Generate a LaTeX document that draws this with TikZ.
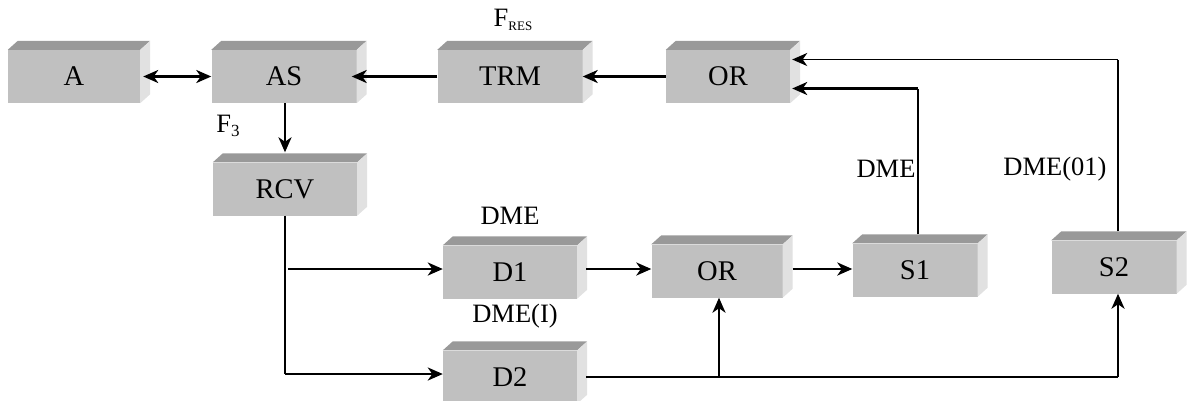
\documentclass[tikz,border=0pt]{standalone}
\usepackage{fontspec}
\setmainfont{Liberation Serif}
\usepackage{tikz}
\usetikzlibrary{calc, arrows.meta}
\definecolor{boxFront}{RGB}{192, 192, 192}
\definecolor{boxTop}{RGB}{153, 153, 153}
\definecolor{boxSide}{RGB}{225, 225, 225}

% top and right faces of a raised box
\newcommand{\bevel}[1]{%
  \fill[boxTop] (#1.north west) -- ++(10,-9) -- ($(#1.north east)+(10,-9)$) -- (#1.north east) -- cycle;
  \fill[boxSide] (#1.north east) -- ++(10,-9) -- ($(#1.south east)+(10,-9)$) -- (#1.south east) -- cycle;}

\begin{document}
\begin{tikzpicture}[x=1pt, y=-1pt, >={Stealth[length=15pt, width=13pt, inset=4.5pt]},
  block/.style={fill=boxFront, minimum height=53pt, inner sep=0pt, font=\fontsize{28.5}{30}\selectfont},
  link/.style={line width=2.6pt},
  wire/.style={line width=1.2pt},
  lbl/.style={font=\fontsize{26.5}{28}\selectfont}]
  \useasboundingbox (0,0) rectangle (1192,400);

  \node[block, minimum width=132pt] (A) at (74,76.5) {A};
  \node[block, minimum width=145pt] (AS) at (284,76.5) {AS};
  \node[block, minimum width=145pt] (TRM) at (510,76.5) {TRM};
  \node[block, minimum width=124pt] (OR1) at (728,76.5) {OR};
  \node[block, minimum width=144pt] (RCV) at (285,189) {RCV};
  \node[block, minimum width=134pt] (D1) at (510,272) {D1};
  \node[block, minimum width=134pt] (D2) at (510,377) {D2};
  \node[block, minimum width=131pt] (OR2) at (717,271) {OR};
  \node[block, minimum width=125pt] (S1) at (915,270) {S1};
  \node[block, minimum width=125pt] (S2) at (1114,267) {S2};
  \foreach \b in {A,AS,TRM,OR1,RCV,D1,D2,OR2,S1,S2} {\bevel{\b}}

  \node[lbl] (Fres) at (513,20) {F\raisebox{-0.35ex}{\fontsize{13}{13}\selectfont RES}};
  \node[lbl] (F3) at (228,126) {F\raisebox{-0.35ex}{\fontsize{17}{17}\selectfont 3}};
  \node[lbl] (dmeA) at (510,216) {DME};
  \node[lbl] (dmeB) at (515,316) {DME(I)};
  \node[lbl] (dmeC) at (886,169) {DME};
  \node[lbl] (dmeD) at (1055,169) {DME(01)};

  % upper chain
  \draw[link, <->] ($(A.east)+(3,0)$) -- (AS.west);
  \draw[link, ->] (TRM.west) -- ($(AS.east)+(-5,0)$);
  \draw[link, ->] (OR1.west) -- (TRM.east);
  \draw[link, ->] ($(RCV.north |- AS.south)$) -- ($(RCV.north)+(0,-10)$);

  % receiver split
  \coordinate (split1) at ($(RCV.south |- D1.west)+(3,-3)$);
  \coordinate (split2) at ($(RCV.south |- D2.west)+(0,-3)$);
  \draw[wire] (RCV.south) -- (split2);
  \draw[link, ->] (split1) -- ($(D1.west)+(0,-3)$);
  \draw[link, ->] (split2) -- ($(D2.west)+(0,-3)$) ;
  \draw[link, ->] ($(D1.east)+(9,-3)$) -- ($(OR2.west)+(0,-2)$);
  \draw[link, ->] ($(OR2.east)+(10,-2)$) -- ($(S1.west)+(0,-1)$);

  % D2 feed
  \coordinate (tap) at ($(OR2.south |- D2.east)+(2,0)$);
  \coordinate (corner) at ($(S2.south |- D2.east)+(4,0)$);
  \draw[line width=1.8pt] ($(D2.east)+(9,0)$) -- (corner);
  \draw[link, ->] (tap) -- ($(OR2.south)+(2,0)$);
  \draw[link, ->] (corner) -- ($(S2.south)+(4,0)$);

  % feedback to OR
  \coordinate (top1) at ($(S1.north)+(3,-9)$);
  \coordinate (top2) at ($(S2.north)+(4,-9)$);
  \coordinate (in1) at ($(OR1.east)+(2,12)$);
  \coordinate (in2) at ($(OR1.east)+(2,-17)$);
  \draw[wire] (top1) -- (top1 |- in1);
  \draw[link, ->] (top1 |- in1) -- (in1);
  \draw[wire] (top2) -- (top2 |- in2);
  \draw[line width=1.8pt, ->] (top2 |- in2) -- (in2);
\end{tikzpicture}
\end{document}
